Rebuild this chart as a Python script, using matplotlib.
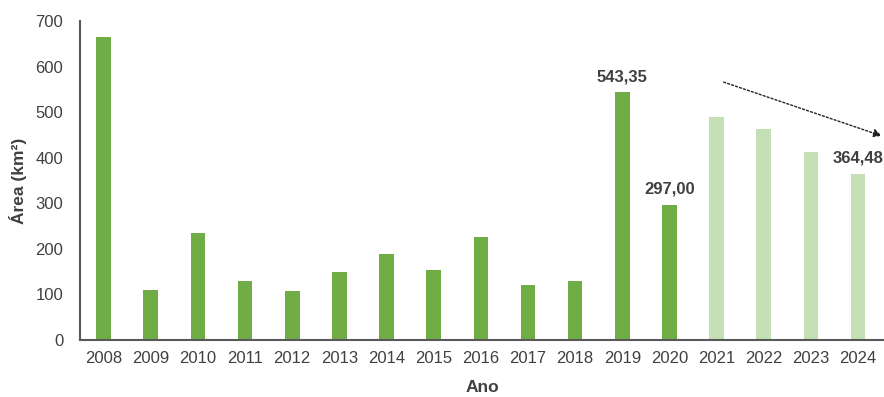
import matplotlib
matplotlib.use("Agg")
import matplotlib.pyplot as plt

# área anual (km²) - 2008 a 2020 observados, 2021 a 2024 em tom claro
anos = ['2008', '2009', '2010', '2011', '2012', '2013', '2014', '2015', '2016',
        '2017', '2018', '2019', '2020', '2021', '2022', '2023', '2024']
area = [664, 110, 235, 129, 107, 149, 189, 154, 226,
        121, 129, 543.35, 297.00, 490, 462, 412, 364.48]
destaque = {'2019': '543,35', '2020': '297,00', '2024': '364,48'}

verde = '#70AD47'
verde_claro = '#C5E0B4'
cinza = '#404040'

plt.rcParams['font.family'] = ['Liberation Sans', 'DejaVu Sans']

fig = plt.figure(figsize=(8.84, 3.97), dpi=100)
ax = fig.add_axes([0.0905, 0.1436, 0.9095, 0.8034])

cores = [verde if int(a) <= 2020 else verde_claro for a in anos]
x = list(range(len(anos)))
ax.bar(x, area, width=0.31, color=cores, zorder=2)

for i, a in enumerate(anos):
    if a in destaque:
        ax.text(i, area[i] + 18, destaque[a], ha='center', va='bottom',
                fontsize=12, fontweight='bold', color=cinza, clip_on=False)

# seta pontilhada indicando a tendência de queda
ax.annotate('', xy=(16.5, 448), xytext=(13.15, 566),
            arrowprops=dict(arrowstyle='-|>', linestyle=(0, (1.5, 1.5)),
                            color='#222222', lw=1, mutation_scale=12,
                            shrinkA=0, shrinkB=0),
            annotation_clip=False)

ax.set_xlim(-0.5, 16.55)
ax.set_ylim(0, 700)
ax.set_yticks(range(0, 701, 100))
ax.set_xticks(x)
ax.set_xticklabels(anos)
ax.tick_params(length=0, labelsize=12, colors=cinza, pad=8)
ax.tick_params(axis='y', pad=12)

for s in ['top', 'right']:
    ax.spines[s].set_visible(False)
for s in ['left', 'bottom']:
    ax.spines[s].set_color('#595959')
    ax.spines[s].set_linewidth(1.5)

ax.set_ylabel('Área (km²)', fontsize=12.5, fontweight='bold', color=cinza, labelpad=6)
ax.set_xlabel('Ano', fontsize=12.5, fontweight='bold', color=cinza, labelpad=10)

fig.savefig('out.png', dpi=100)
